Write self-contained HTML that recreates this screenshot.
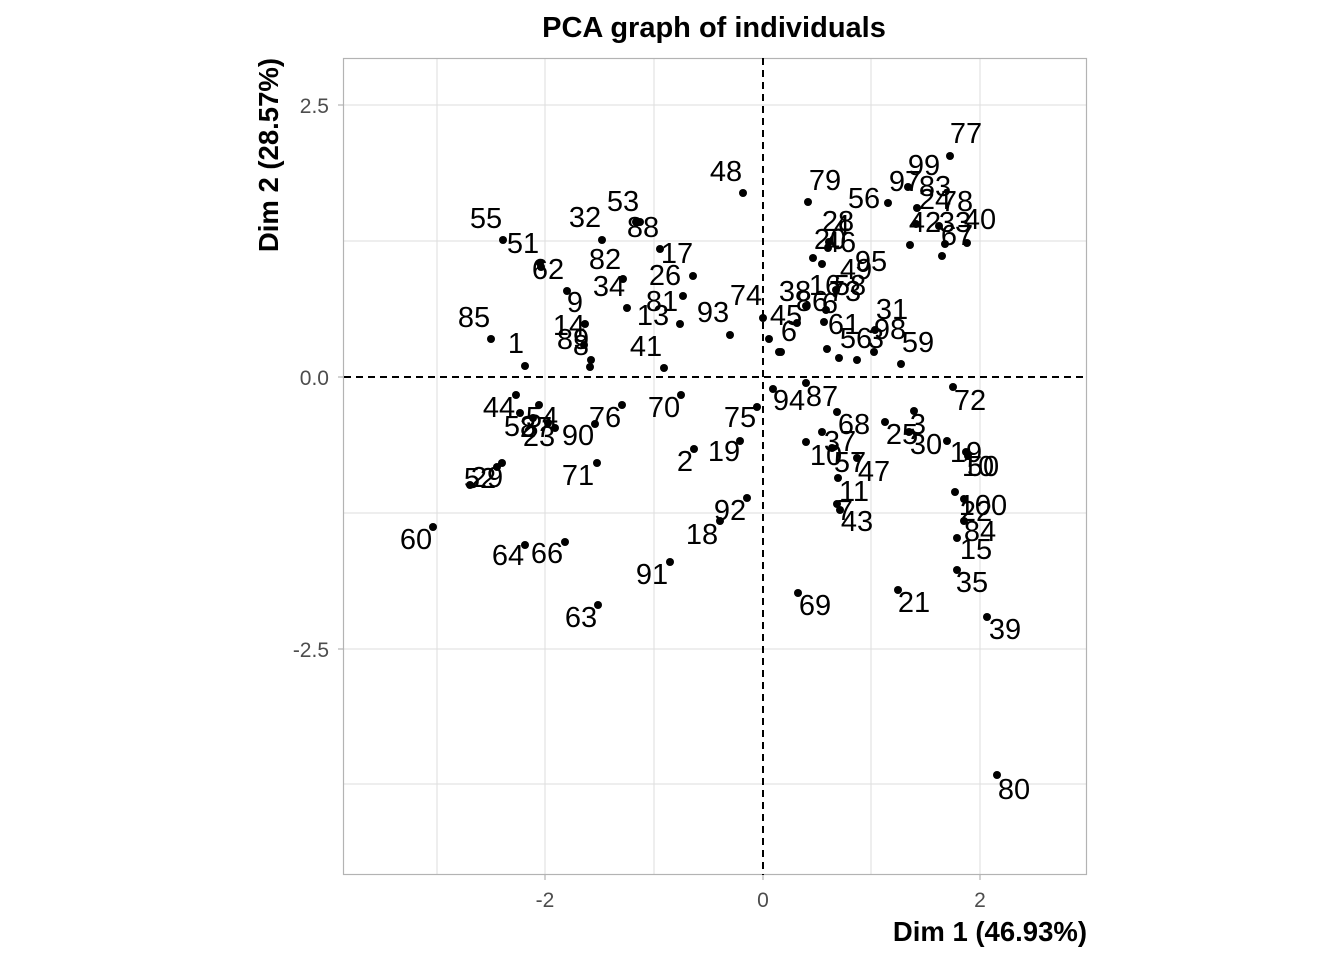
<!DOCTYPE html>
<html><head><meta charset="utf-8"><style>
html,body{margin:0;padding:0;background:#fff;}
svg{display:block;font-family:"Liberation Sans",Arial,sans-serif;}
.l{font-size:29px;fill:#000;text-anchor:middle;dominant-baseline:central;}
</style></head><body>
<svg width="1344" height="960" viewBox="0 0 1344 960">
<rect width="1344" height="960" fill="#fff"/>
<g stroke="#dedede" stroke-width="1">
<line x1="437" y1="58" x2="437" y2="875"/><line x1="545" y1="58" x2="545" y2="875"/><line x1="654" y1="58" x2="654" y2="875"/>
<line x1="871" y1="58" x2="871" y2="875"/><line x1="980" y1="58" x2="980" y2="875"/>
<line x1="344" y1="105" x2="1087" y2="105"/><line x1="344" y1="241" x2="1087" y2="241"/><line x1="344" y1="513" x2="1087" y2="513"/>
<line x1="344" y1="649" x2="1087" y2="649"/><line x1="344" y1="784" x2="1087" y2="784"/>
</g>
<rect x="343.5" y="58.5" width="743" height="816" fill="none" stroke="#b3b3b3" stroke-width="1.2"/>
<line x1="763" y1="58" x2="763" y2="875" stroke="#000" stroke-width="2" stroke-dasharray="7,5"/>
<line x1="344" y1="377" x2="1087" y2="377" stroke="#000" stroke-width="2" stroke-dasharray="7,5"/>
<g stroke="#b3b3b3" stroke-width="1.2">
<line x1="338" y1="105" x2="343" y2="105"/><line x1="338" y1="377" x2="343" y2="377"/><line x1="338" y1="649" x2="343" y2="649"/>
<line x1="545" y1="875" x2="545" y2="880"/><line x1="763" y1="875" x2="763" y2="880"/><line x1="980" y1="875" x2="980" y2="880"/>
</g>
<g font-size="21" fill="#4d4d4d">
<text x="329" y="113" text-anchor="end">2.5</text>
<text x="329" y="385" text-anchor="end">0.0</text>
<text x="329" y="657" text-anchor="end">-2.5</text>
<text x="545" y="907" text-anchor="middle">-2</text>
<text x="763" y="907" text-anchor="middle">0</text>
<text x="980" y="907" text-anchor="middle">2</text>
</g>
<text x="714" y="37" font-size="29" font-weight="bold" text-anchor="middle">PCA graph of individuals</text>
<text x="1087" y="941" font-size="27.5" font-weight="bold" text-anchor="end">Dim 1 (46.93%)</text>
<text transform="translate(278,58) rotate(-90)" font-size="27.5" font-weight="bold" text-anchor="end">Dim 2 (28.57%)</text>
<g fill="#000">
<circle cx="743" cy="193" r="4"/><circle cx="640" cy="222" r="4"/><circle cx="636" cy="222" r="4"/><circle cx="602" cy="240" r="4"/>
<circle cx="503" cy="240" r="4"/><circle cx="540" cy="263" r="4"/><circle cx="541" cy="267" r="4"/><circle cx="623" cy="279" r="4"/>
<circle cx="627" cy="308" r="4"/><circle cx="660" cy="249" r="4"/><circle cx="693" cy="276" r="4"/><circle cx="683" cy="296" r="4"/>
<circle cx="680" cy="324" r="4"/><circle cx="567" cy="291" r="4"/><circle cx="585" cy="324" r="4"/><circle cx="584" cy="345" r="4"/>
<circle cx="591" cy="360" r="4"/><circle cx="590" cy="367" r="4"/><circle cx="491" cy="339" r="4"/><circle cx="525" cy="366" r="4"/>
<circle cx="664" cy="368" r="4"/><circle cx="730" cy="335" r="4"/><circle cx="763" cy="318" r="4"/><circle cx="769" cy="339" r="4"/><circle cx="779" cy="352" r="4"/>
<circle cx="950" cy="156" r="4"/><circle cx="908" cy="187" r="4"/><circle cx="808" cy="202" r="4"/><circle cx="888" cy="203" r="4"/>
<circle cx="917" cy="208" r="4"/><circle cx="916" cy="224" r="4"/><circle cx="939" cy="226" r="4"/><circle cx="967" cy="243" r="4"/>
<circle cx="945" cy="244" r="4"/><circle cx="942" cy="256" r="4"/><circle cx="910" cy="245" r="4"/>
<circle cx="829" cy="242" r="4"/><circle cx="828" cy="248" r="4"/><circle cx="813" cy="258" r="4"/><circle cx="822" cy="264" r="4"/>
<circle cx="836" cy="290" r="4"/><circle cx="806" cy="306" r="4"/><circle cx="826" cy="310" r="4"/><circle cx="824" cy="322" r="4"/>
<circle cx="797" cy="323" r="4"/><circle cx="781" cy="352" r="4"/><circle cx="827" cy="349" r="4"/><circle cx="839" cy="358" r="4"/>
<circle cx="857" cy="360" r="4"/><circle cx="875" cy="330" r="4"/><circle cx="874" cy="352" r="4"/><circle cx="901" cy="364" r="4"/>
<circle cx="516" cy="395" r="4"/><circle cx="539" cy="405" r="4"/><circle cx="520" cy="413" r="4"/><circle cx="533" cy="418" r="4"/>
<circle cx="548" cy="423" r="4"/><circle cx="555" cy="428" r="4"/><circle cx="595" cy="424" r="4"/><circle cx="622" cy="405" r="4"/>
<circle cx="681" cy="395" r="4"/><circle cx="757" cy="407" r="4"/><circle cx="694" cy="449" r="4"/><circle cx="740" cy="441" r="4"/>
<circle cx="597" cy="463" r="4"/><circle cx="502" cy="463" r="4"/><circle cx="497" cy="467" r="4"/><circle cx="470" cy="485" r="4"/>
<circle cx="433" cy="527" r="4"/><circle cx="525" cy="545" r="4"/><circle cx="565" cy="542" r="4"/><circle cx="670" cy="562" r="4"/>
<circle cx="720" cy="521" r="4"/><circle cx="747" cy="498" r="4"/><circle cx="598" cy="605" r="4"/>
<circle cx="773" cy="389" r="4"/><circle cx="806" cy="383" r="4"/><circle cx="837" cy="412" r="4"/><circle cx="822" cy="432" r="4"/>
<circle cx="806" cy="442" r="4"/><circle cx="832" cy="448" r="4"/><circle cx="857" cy="458" r="4"/><circle cx="838" cy="478" r="4"/>
<circle cx="837" cy="504" r="4"/><circle cx="840" cy="510" r="4"/><circle cx="885" cy="422" r="4"/><circle cx="914" cy="411" r="4"/>
<circle cx="909" cy="432" r="4"/><circle cx="947" cy="441" r="4"/><circle cx="966" cy="452" r="4"/><circle cx="968" cy="456" r="4"/>
<circle cx="953" cy="387" r="4"/><circle cx="955" cy="492" r="4"/><circle cx="964" cy="499" r="4"/><circle cx="964" cy="521" r="4"/>
<circle cx="957" cy="538" r="4"/><circle cx="957" cy="570" r="4"/><circle cx="898" cy="590" r="4"/><circle cx="798" cy="593" r="4"/>
<circle cx="987" cy="617" r="4"/><circle cx="997" cy="775" r="4"/>
</g>
<g class="l">
<text class="l" x="726" y="172">48</text><text class="l" x="623" y="202">53</text><text class="l" x="643" y="228">88</text><text class="l" x="585" y="218">32</text>
<text class="l" x="486" y="219">55</text><text class="l" x="523" y="244">51</text><text class="l" x="548" y="270">62</text><text class="l" x="605" y="260">82</text>
<text class="l" x="677" y="254">17</text><text class="l" x="665" y="276">26</text><text class="l" x="609" y="287">34</text><text class="l" x="662" y="302">81</text>
<text class="l" x="653" y="316">13</text><text class="l" x="575" y="303">9</text><text class="l" x="569" y="326">14</text><text class="l" x="573" y="340">89</text>
<text class="l" x="581" y="346">8</text><text class="l" x="474" y="318">85</text><text class="l" x="516" y="344">1</text><text class="l" x="646" y="347">41</text>
<text class="l" x="713" y="313">93</text><text class="l" x="746" y="296">74</text>
<text class="l" x="966" y="134">77</text><text class="l" x="924" y="166">99</text><text class="l" x="905" y="182">97</text><text class="l" x="935" y="187">83</text>
<text class="l" x="825" y="181">79</text><text class="l" x="864" y="199">56</text><text class="l" x="935" y="200">24</text><text class="l" x="957" y="202">78</text>
<text class="l" x="925" y="223">42</text><text class="l" x="955" y="223">33</text><text class="l" x="980" y="220">40</text><text class="l" x="957" y="236">67</text>
<text class="l" x="838" y="222">28</text><text class="l" x="842" y="226">4</text><text class="l" x="830" y="240">20</text><text class="l" x="840" y="243">46</text>
<text class="l" x="871" y="262">95</text><text class="l" x="856" y="270">49</text><text class="l" x="795" y="292">38</text><text class="l" x="825" y="286">16</text>
<text class="l" x="850" y="286">58</text><text class="l" x="845" y="292">73</text><text class="l" x="812" y="302">86</text><text class="l" x="830" y="304">6</text>
<text class="l" x="786" y="316">45</text><text class="l" x="789" y="332">6</text><text class="l" x="844" y="325">61</text><text class="l" x="856" y="339">56</text>
<text class="l" x="876" y="339">3</text><text class="l" x="892" y="310">31</text><text class="l" x="890" y="330">98</text><text class="l" x="918" y="343">59</text>
<text class="l" x="499" y="408">44</text><text class="l" x="542" y="418">54</text><text class="l" x="520" y="427">58</text><text class="l" x="536" y="428">27</text>
<text class="l" x="539" y="437">23</text><text class="l" x="578" y="436">90</text><text class="l" x="605" y="418">76</text><text class="l" x="664" y="408">70</text>
<text class="l" x="740" y="418">75</text><text class="l" x="685" y="462">2</text><text class="l" x="724" y="452">19</text><text class="l" x="578" y="476">71</text>
<text class="l" x="480" y="479">52</text><text class="l" x="487" y="478">29</text><text class="l" x="416" y="540">60</text><text class="l" x="508" y="556">64</text>
<text class="l" x="547" y="554">66</text><text class="l" x="652" y="575">91</text><text class="l" x="702" y="535">18</text><text class="l" x="730" y="511">92</text>
<text class="l" x="581" y="618">63</text>
<text class="l" x="789" y="401">94</text><text class="l" x="822" y="397">87</text><text class="l" x="854" y="425">68</text><text class="l" x="840" y="442">37</text>
<text class="l" x="826" y="456">10</text><text class="l" x="850" y="463">57</text><text class="l" x="874" y="472">47</text><text class="l" x="854" y="492">11</text>
<text class="l" x="845" y="511">7</text><text class="l" x="857" y="522">43</text><text class="l" x="902" y="435">25</text><text class="l" x="918" y="425">3</text>
<text class="l" x="926" y="445">30</text><text class="l" x="966" y="453">19</text><text class="l" x="983" y="467">50</text><text class="l" x="978" y="467">10</text>
<text class="l" x="970" y="401">72</text><text class="l" x="983" y="506">100</text><text class="l" x="976" y="512">22</text><text class="l" x="980" y="532">84</text>
<text class="l" x="976" y="550">15</text><text class="l" x="972" y="583">35</text><text class="l" x="914" y="603">21</text><text class="l" x="815" y="606">69</text>
<text class="l" x="1005" y="630">39</text><text class="l" x="1014" y="790">80</text>
</g>
</svg>
</body></html>
